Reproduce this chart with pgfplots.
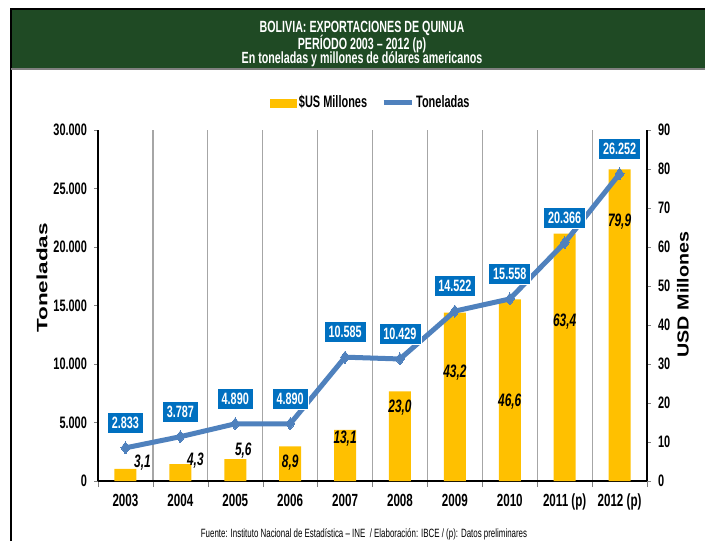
\documentclass[border=0pt]{standalone}
\usepackage{fontspec}
\setmainfont{Liberation Sans}[FakeStretch=0.66]
\newfontfamily\widefont{Liberation Sans}
\usepackage{pgfplots}
\usepackage{pgfplotstable}
\pgfplotsset{compat=1.18}

\definecolor{bargold}{HTML}{FFC000}
\definecolor{lineblue}{HTML}{4F81BD}
\definecolor{boxblue}{HTML}{0070C0}
\definecolor{titlegreen}{HTML}{1F4A24}
\definecolor{gridgray}{HTML}{A6A6A6}

% exportaciones en millones de USD (dx, dy: desplazamiento de la etiqueta)
\pgfplotstableread{
x usd dx dy
0 3.1  8.5  3
1 4.3  7.5  2
2 5.6  4    4.5
3 8.9  0   -8
4 13.1 0   -4.5
5 23.0 0   -8
6 43.2 0   -30
7 46.6 0   -51
8 63.4 0   -44
9 79.9 0   -26
}\usdtable

% toneladas
\pgfplotstableread{
x tons
0 2833
1 3787
2 4890
3 4890
4 10585
5 10429
6 14522
7 15558
8 20366
9 26252
}\tontable

\pgfplotsset{
  common/.style={
    scale only axis, width=274.5pt, height=175.5pt,
    at={(49pt,30pt)}, anchor=south west,
    xmin=-0.5, xmax=9.5,
    tick label style={font=\fontsize{8.3}{9}\selectfont\bfseries},
    /pgf/number format/assume math mode=true,
    major tick length=2pt,
    tick align=outside,
  }
}

\begin{document}
\begin{tikzpicture}
\useasboundingbox (0,0) rectangle (352.5pt,270.5pt);

% marco y titulo
\fill[titlegreen] (5.5pt,236pt) rectangle (352.5pt,266pt);
\draw[black, line width=0.6pt] (5.5pt,0pt) -- (5.5pt,266pt) -- (352.5pt,266pt);
\draw[gray, line width=0.6pt] (5.5pt,236pt) -- (352.5pt,236pt);
\node[text=white, font=\fontsize{8.1}{9}\selectfont\bfseries] at (181pt,256.5pt) {BOLIVIA: EXPORTACIONES DE QUINUA};
\node[text=white, font=\fontsize{8.1}{9}\selectfont\bfseries] at (181pt,248.5pt) {PERÍODO 2003 – 2012 (p)};
\node[text=white, font=\fontsize{8.1}{9}\selectfont\bfseries] at (181pt,240.8pt) {En toneladas y millones de dólares americanos};

% barras: eje derecho
\begin{axis}[common,
  ymin=0, ymax=90,
  axis y line*=right, axis x line*=bottom,
  ytick={0,10,...,90},
  xtick={0,...,9},
  xticklabels={2003,2004,2005,2006,2007,2008,2009,2010,2011 (p),2012 (p)},
  xticklabel style={font=\fontsize{8.8}{9}\selectfont\bfseries, yshift=-1pt},
  major x tick style={draw=none},
  minor xtick={-0.5,0.5,...,9.5},
  minor tick length=3pt,
  xminorgrids=true,
  minor x grid style={gridgray, line width=0.6pt},
  x axis line style={line width=1pt},
  y axis line style={line width=0.7pt},
]
\addplot[ybar, fill=bargold, draw=none, bar width=11pt,
  nodes near coords,
  visualization depends on={\thisrow{dx}\as\dx},
  visualization depends on={\thisrow{dy}\as\dy},
  every node near coord/.append style={anchor=center, xshift=\dx pt, yshift=\dy pt,
    font=\fontsize{9}{10}\selectfont\bfseries\itshape, text=black,
    /pgf/number format/.cd, fixed, fixed zerofill, precision=1, use comma},
] table[x=x, y=usd] {\usdtable};
\end{axis}

% linea: eje izquierdo
\begin{axis}[common,
  ymin=0, ymax=30000,
  axis y line*=left, axis x line=none,
  xtick=\empty,
  ytick={0,5000,...,30000},
  scaled y ticks=false,
  yticklabel style={/pgf/number format/.cd, fixed, 1000 sep={.}},
  y axis line style={line width=0.7pt},
  legend style={at={(0.497,1.077)}, anchor=center, draw=none, fill=none,
    font=\fontsize{8.3}{9}\selectfont\bfseries, legend columns=-1,
    nodes={inner xsep=1pt},
    /tikz/every even column/.append style={column sep=6pt}},
  legend cell align=left,
]
\addlegendimage{legend image code/.code={\fill[bargold] (0pt,-2pt) rectangle (13pt,2pt);}}
\addplot[lineblue, line width=2.5pt, mark=diamond*, mark size=3pt,
  mark options={solid, line width=0pt},
  legend image code/.code={\draw[lineblue, line width=2.5pt] (0pt,0pt) -- (14pt,0pt);},
  nodes near coords,
  every node near coord/.append style={anchor=center, yshift=12.5pt,
    fill=boxblue, draw=white, line width=0.4pt, text=white,
    inner xsep=2.2pt, inner ysep=2.4pt,
    font=\fontsize{8.2}{9}\selectfont\bfseries,
    /pgf/number format/.cd, fixed, precision=0, 1000 sep={.}},
] table[x=x, y=tons] {\tontable};
\legend{\$US Millones, Toneladas}
\end{axis}

% titulos de ejes
\node[rotate=90, font=\widefont\bfseries\fontsize{7.5}{8}\selectfont] at (21pt,131.5pt) {\scalebox{1.5}[1]{Toneladas}};
\node[rotate=90, font=\widefont\bfseries\fontsize{8}{9}\selectfont] at (341.5pt,123.25pt) {\scalebox{1.23}[1]{USD Millones}};

% fuente
\node[font=\fontsize{6}{7}\selectfont] at (182pt,3.5pt) {Fuente: Instituto Nacional de Estadística – INE \ / Elaboración: IBCE / (p): Datos preliminares};
\end{tikzpicture}
\end{document}
